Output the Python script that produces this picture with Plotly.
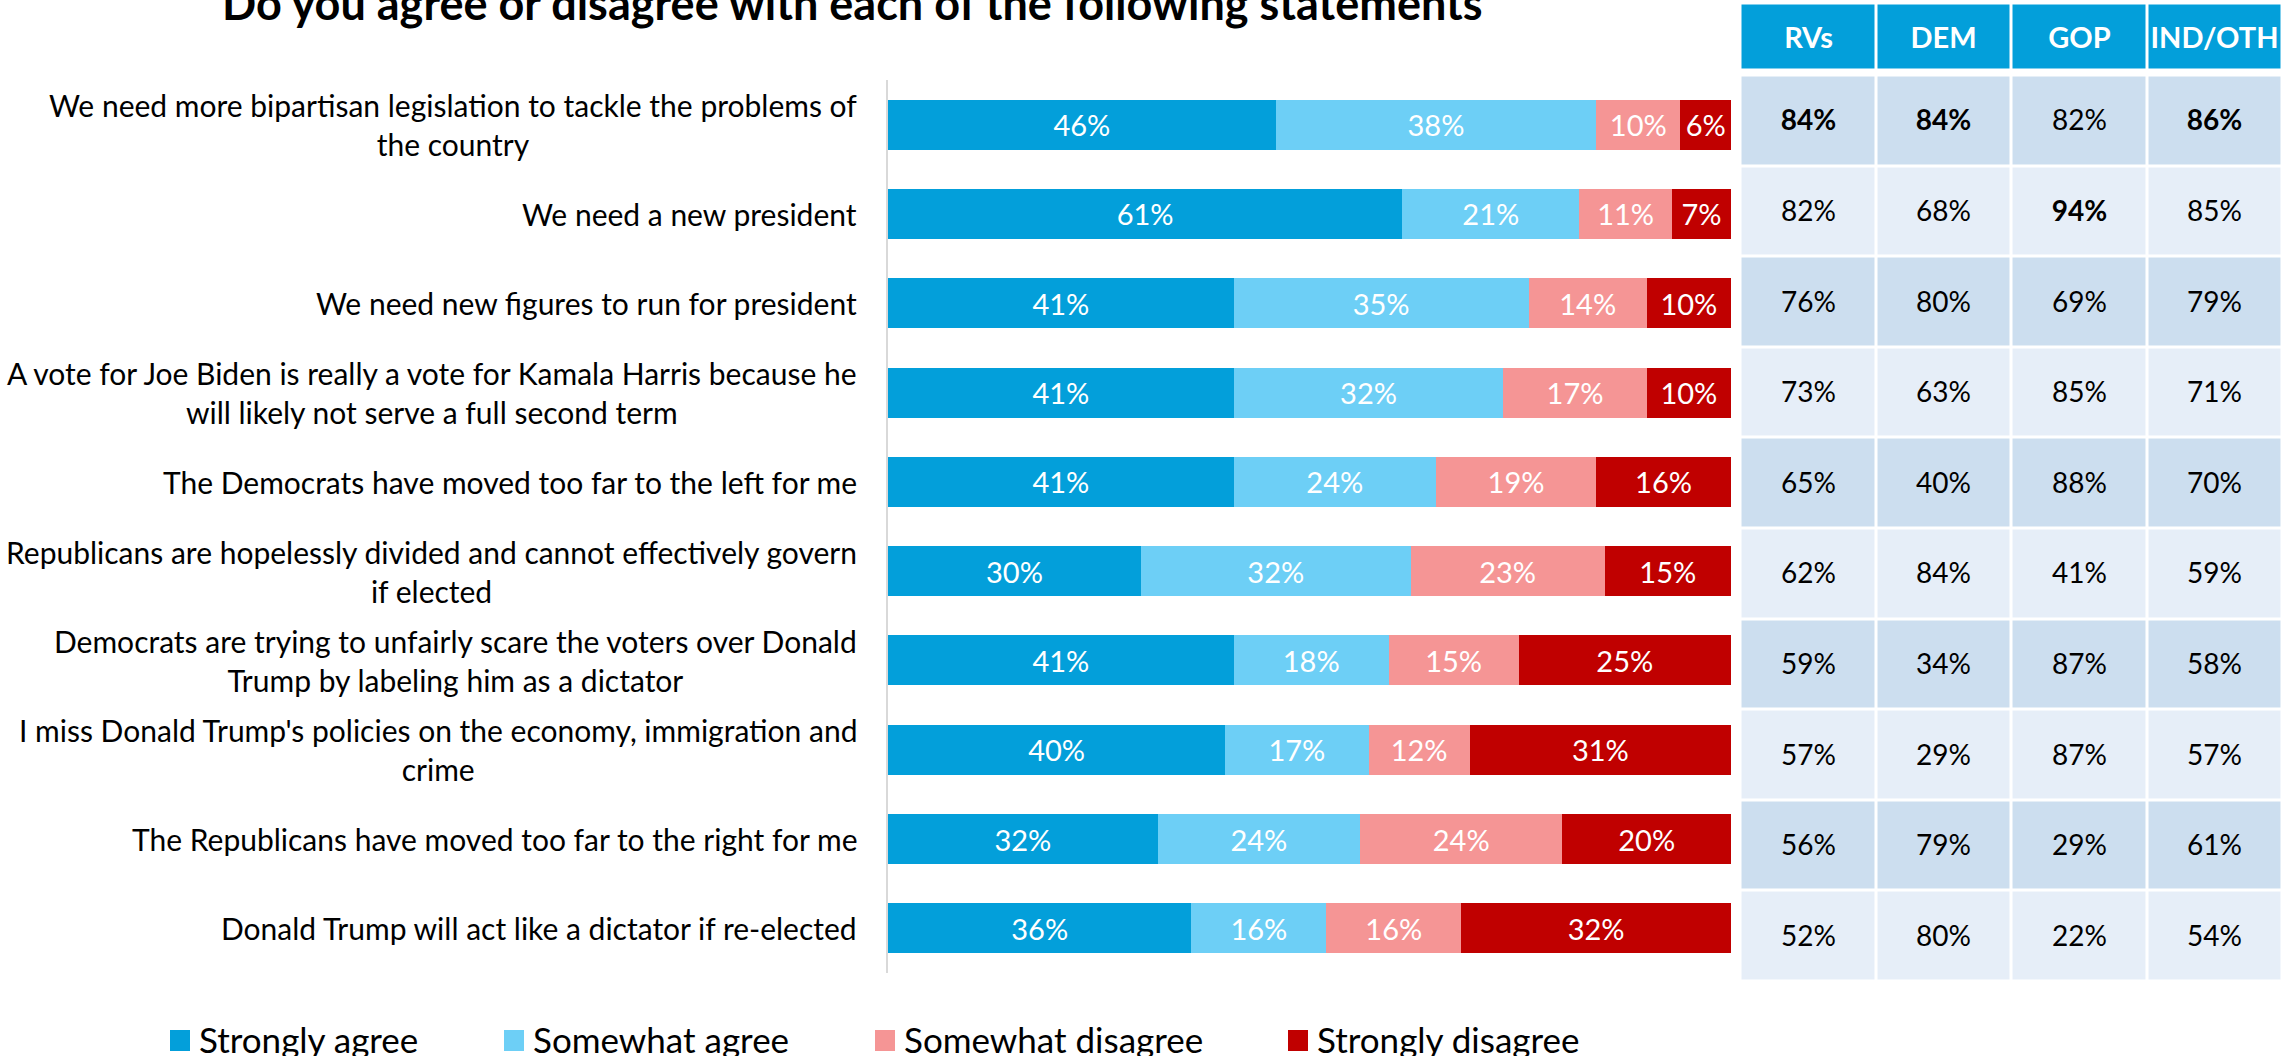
import plotly.graph_objects as go

W, H = 2295, 1056
FONT = "Lato, 'Open Sans', sans-serif"

title = "Do you agree or disagree with each of the following statements"

statements = [
    "We need more bipartisan legislation to tackle the problems of<br>the country",
    "We need a new president",
    "We need new figures to run for president",
    "A vote for Joe Biden is really a vote for Kamala Harris because he<br>will likely not serve a full second term",
    "The Democrats have moved too far to the left for me",
    "Republicans are hopelessly divided and cannot effectively govern<br>if elected",
    "Democrats are trying to unfairly scare the voters over Donald<br>Trump by labeling him as a dictator",
    "I miss Donald Trump's policies on the economy, immigration and<br>crime",
    "The Republicans have moved too far to the right for me",
    "Donald Trump will act like a dictator if re-elected",
]

strongly_agree = [46, 61, 41, 41, 41, 30, 41, 40, 32, 36]
somewhat_agree = [38, 21, 35, 32, 24, 32, 18.4, 17, 24, 16]
somewhat_disagree = [10, 11, 14, 17, 19, 23, 15.4, 12, 24, 16]
strongly_disagree = [6, 7, 10, 10, 16, 15, 25.2, 31, 20, 32]

series_names = ["Strongly agree", "Somewhat agree", "Somewhat disagree", "Strongly disagree"]
series_values = [strongly_agree, somewhat_agree, somewhat_disagree, strongly_disagree]
series_colors = ["#039FDA", "#6DCFF6", "#F59595", "#C00000"]

table_cols = ["RVs", "DEM", "GOP", "IND/OTH"]
rvs = [84, 82, 76, 73, 65, 62, 59, 57, 56, 52]
dem = [84, 68, 80, 63, 40, 84, 34, 29, 79, 80]
gop = [82, 94, 69, 85, 88, 41, 87, 87, 29, 22]
ind_oth = [86, 85, 79, 71, 70, 59, 58, 57, 61, 54]
bold_cells = [(0, "RVs"), (0, "DEM"), (0, "IND/OTH"), (1, "GOP")]


def px(x):
    return x / W


def py(y):
    return 1 - y / H


fig = go.Figure()

for name, vals, color in zip(series_names, series_values, series_colors):
    fig.add_trace(go.Bar(
        y=statements, x=vals, name=name, orientation="h",
        marker=dict(color=color, line=dict(width=0)),
        texttemplate="%{x:.0f}%", textposition="inside", insidetextanchor="middle",
        textfont=dict(family=FONT, size=29, color="white"),
        constraintext="none",
        showlegend=False, hoverinfo="skip", xaxis="x", yaxis="y",
    ))

table_vals = [rvs, dem, gop, ind_oth]
z_body = [[1 + (i % 2)] * len(table_cols) for i in range(len(statements))]
text_body = []
for i in range(len(statements)):
    row = []
    for j, c in enumerate(table_cols):
        v = f"{table_vals[j][i]}%"
        row.append(f"<b>{v}</b>" if (i, c) in bold_cells else v)
    text_body.append(row)

fig.add_trace(go.Heatmap(
    x=table_cols, y=statements, z=z_body, text=text_body, texttemplate="%{text}",
    textfont=dict(family=FONT, size=28, color="black"),
    colorscale=[[0, "#CCDEEF"], [1, "#E6EEF8"]], zmin=1, zmax=2,
    showscale=False, xgap=3, ygap=3, hoverinfo="skip", xaxis="x2", yaxis="y2",
))

fig.add_trace(go.Heatmap(
    x=table_cols, y=["header"], z=[[0] * len(table_cols)],
    text=[[f"<b>{c}</b>" for c in table_cols]], texttemplate="%{text}",
    textfont=dict(family=FONT, size=29, color="white"),
    colorscale=[[0, "#039FDA"], [1, "#039FDA"]], zmin=0, zmax=1,
    showscale=False, xgap=3, ygap=3, hoverinfo="skip", xaxis="x3", yaxis="y3",
))

annotations = []
for s in statements:
    annotations.append(dict(
        x=px(859), xref="paper", y=s, yref="y", xanchor="right", yanchor="middle",
        text=s, align="center", showarrow=False,
        font=dict(family=FONT, size=30, color="black"),
    ))

annotations.append(dict(
    x=px(852), xref="paper", y=py(3), yref="paper", xanchor="center", yanchor="middle",
    text=f"<b>{title}</b>", showarrow=False,
    font=dict(family=FONT, size=45, color="black"),
))

shapes = []
legend_sq_x = [170, 504, 875, 1288]
for lx, name, color in zip(legend_sq_x, series_names, series_colors):
    shapes.append(dict(type="rect", xref="paper", yref="paper",
                       x0=px(lx), x1=px(lx + 20), y0=py(1051), y1=py(1030),
                       fillcolor=color, line=dict(width=0)))
    annotations.append(dict(
        x=px(lx + 27), xref="paper", y=py(1039), yref="paper",
        xanchor="left", yanchor="middle", text=name, showarrow=False,
        font=dict(family=FONT, size=35, color="black"),
    ))

fig.update_layout(
    width=W, height=H,
    margin=dict(l=0, r=0, t=0, b=0),
    paper_bgcolor="white", plot_bgcolor="white",
    barmode="stack", bargap=0.44,
    showlegend=False,
    xaxis=dict(domain=[px(888), px(1731)], range=[0, 100], showgrid=False,
               zeroline=False, showticklabels=False, showline=False, fixedrange=True),
    yaxis=dict(domain=[py(973), py(80)], autorange="reversed", type="category",
               showgrid=False, zeroline=False, showticklabels=False,
               showline=True, linecolor="#D9D9D9", linewidth=2, ticks=""),
    xaxis2=dict(domain=[px(1740.5), px(2282.5)], anchor="y2", visible=False),
    yaxis2=dict(domain=[py(981.5), py(75.5)], anchor="x2", autorange="reversed",
                type="category", visible=False),
    xaxis3=dict(domain=[px(1740.5), px(2282.5)], anchor="y3", visible=False),
    yaxis3=dict(domain=[py(70.5), py(3.5)], anchor="x3", type="category", visible=False),
    annotations=annotations,
    shapes=shapes,
)

fig.write_html("out.html", config={"displayModeBar": False},
               post_script="document.body.style.margin='0';")
